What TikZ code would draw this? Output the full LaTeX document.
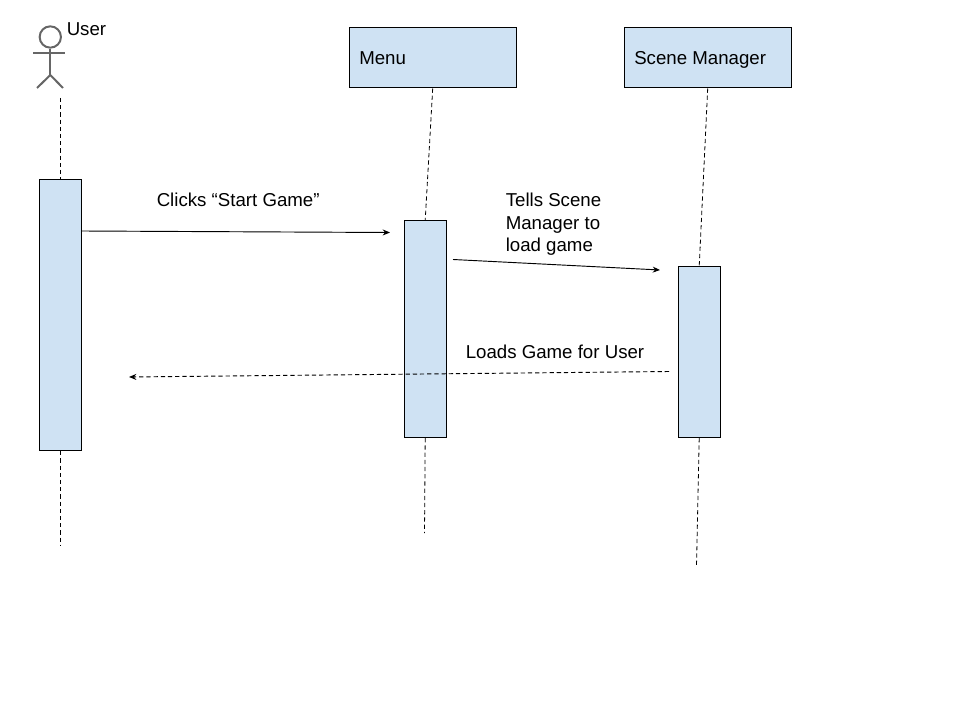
\documentclass[tikz,border=0pt]{standalone}
\usepackage{fontspec}
\setmainfont{Liberation Sans}
\usetikzlibrary{arrows.meta}
\definecolor{boxblue}{HTML}{CFE2F3}
\definecolor{actorgrey}{HTML}{666666}
\tikzset{
  x=0.75pt,y=-0.75pt,
  box/.style={draw=black,fill=boxblue,line width=0.75pt,rectangle,inner sep=0pt},
  lifeline/.style={draw=black,line width=0.6pt,dash pattern=on 3.2pt off 2.2pt},
  message/.style={draw=black,line width=0.7pt,-{Stealth[length=5.5pt,width=4.5pt]}},
  reply/.style={message,dash pattern=on 3.2pt off 2.2pt},
  lbl/.style={font=\fontsize{14pt}{16.9pt}\selectfont,inner sep=0pt,text=black},
  actorline/.style={draw=actorgrey,line width=1.5pt},
}
\begin{document}
\begin{tikzpicture}
\useasboundingbox (0,0) rectangle (960,720);
% header boxes
\node[box,anchor=north west,minimum width=125.25pt,minimum height=45pt] (menu) at (348.7,27.5) {};
\node[box,anchor=north west,minimum width=125.25pt,minimum height=45pt] (scene) at (623.7,27.5) {};
\node[lbl,anchor=base west] (menulbl) at (359,65) {Menu};
\node[lbl,anchor=base west] (scenelbl) at (634,65) {Scene Manager};
% activation bars
\node[box,anchor=north west,minimum width=31.5pt,minimum height=203pt] (ua) at (38.7,179.5) {};
\node[box,anchor=north west,minimum width=31.5pt,minimum height=162.5pt] (ma) at (403.7,220.5) {};
\node[box,anchor=north west,minimum width=31.5pt,minimum height=128pt] (sa) at (677.7,266.5) {};
% free ends
\coordinate (ustart) at (60.5,98);
\coordinate (uend) at (60.5,546);
\coordinate (mend) at (424.5,533);
\coordinate (send) at (696.5,566);
\coordinate (m1a) at (82,231);
\coordinate (m1b) at (390,232.5);
\coordinate (m2a) at (453,259.5);
\coordinate (m2b) at (660,270);
\coordinate (m3a) at (669,371.5);
\coordinate (m3b) at (129,377);
% lifelines
\draw[lifeline] (ustart) -- (ua.north -| ustart);
\draw[lifeline] (ua.south -| uend) -- (uend);
\draw[lifeline] (menu.south) -- (ma.north);
\draw[lifeline] (ma.south) -- (mend);
\draw[lifeline] (scene.south) -- (sa.north);
\draw[lifeline] (sa.south) -- (send);
% messages
\draw[message] (m1a) -- (m1b);
\draw[message] (m2a) -- (m2b);
\draw[reply] (m3a) -- (m3b);
% labels
\node[lbl,anchor=base west] (l1) at (156.5,207) {Clicks “Start Game”};
\node[lbl,anchor=base west] (l2a) at (505.5,207) {Tells Scene};
\node[lbl,anchor=base west] (l2b) at (505.5,229.5) {Manager to};
\node[lbl,anchor=base west] (l2c) at (505.5,252) {load game};
\node[lbl,anchor=base west] (l3) at (465.5,358) {Loads Game for User};
\node[lbl,anchor=base west] (l4) at (66.5,36) {User};
% actor
\node[circle,actorline,minimum size=16pt,inner sep=0pt] (head) at (50.3,37) {};
\draw[actorline] (head.south) -- (50.3,75) coordinate (hip);
\draw[actorline] (33,53) -- (65,53);
\draw[actorline] (37,88) -- (hip) -- (63,88);
\end{tikzpicture}
\end{document}
